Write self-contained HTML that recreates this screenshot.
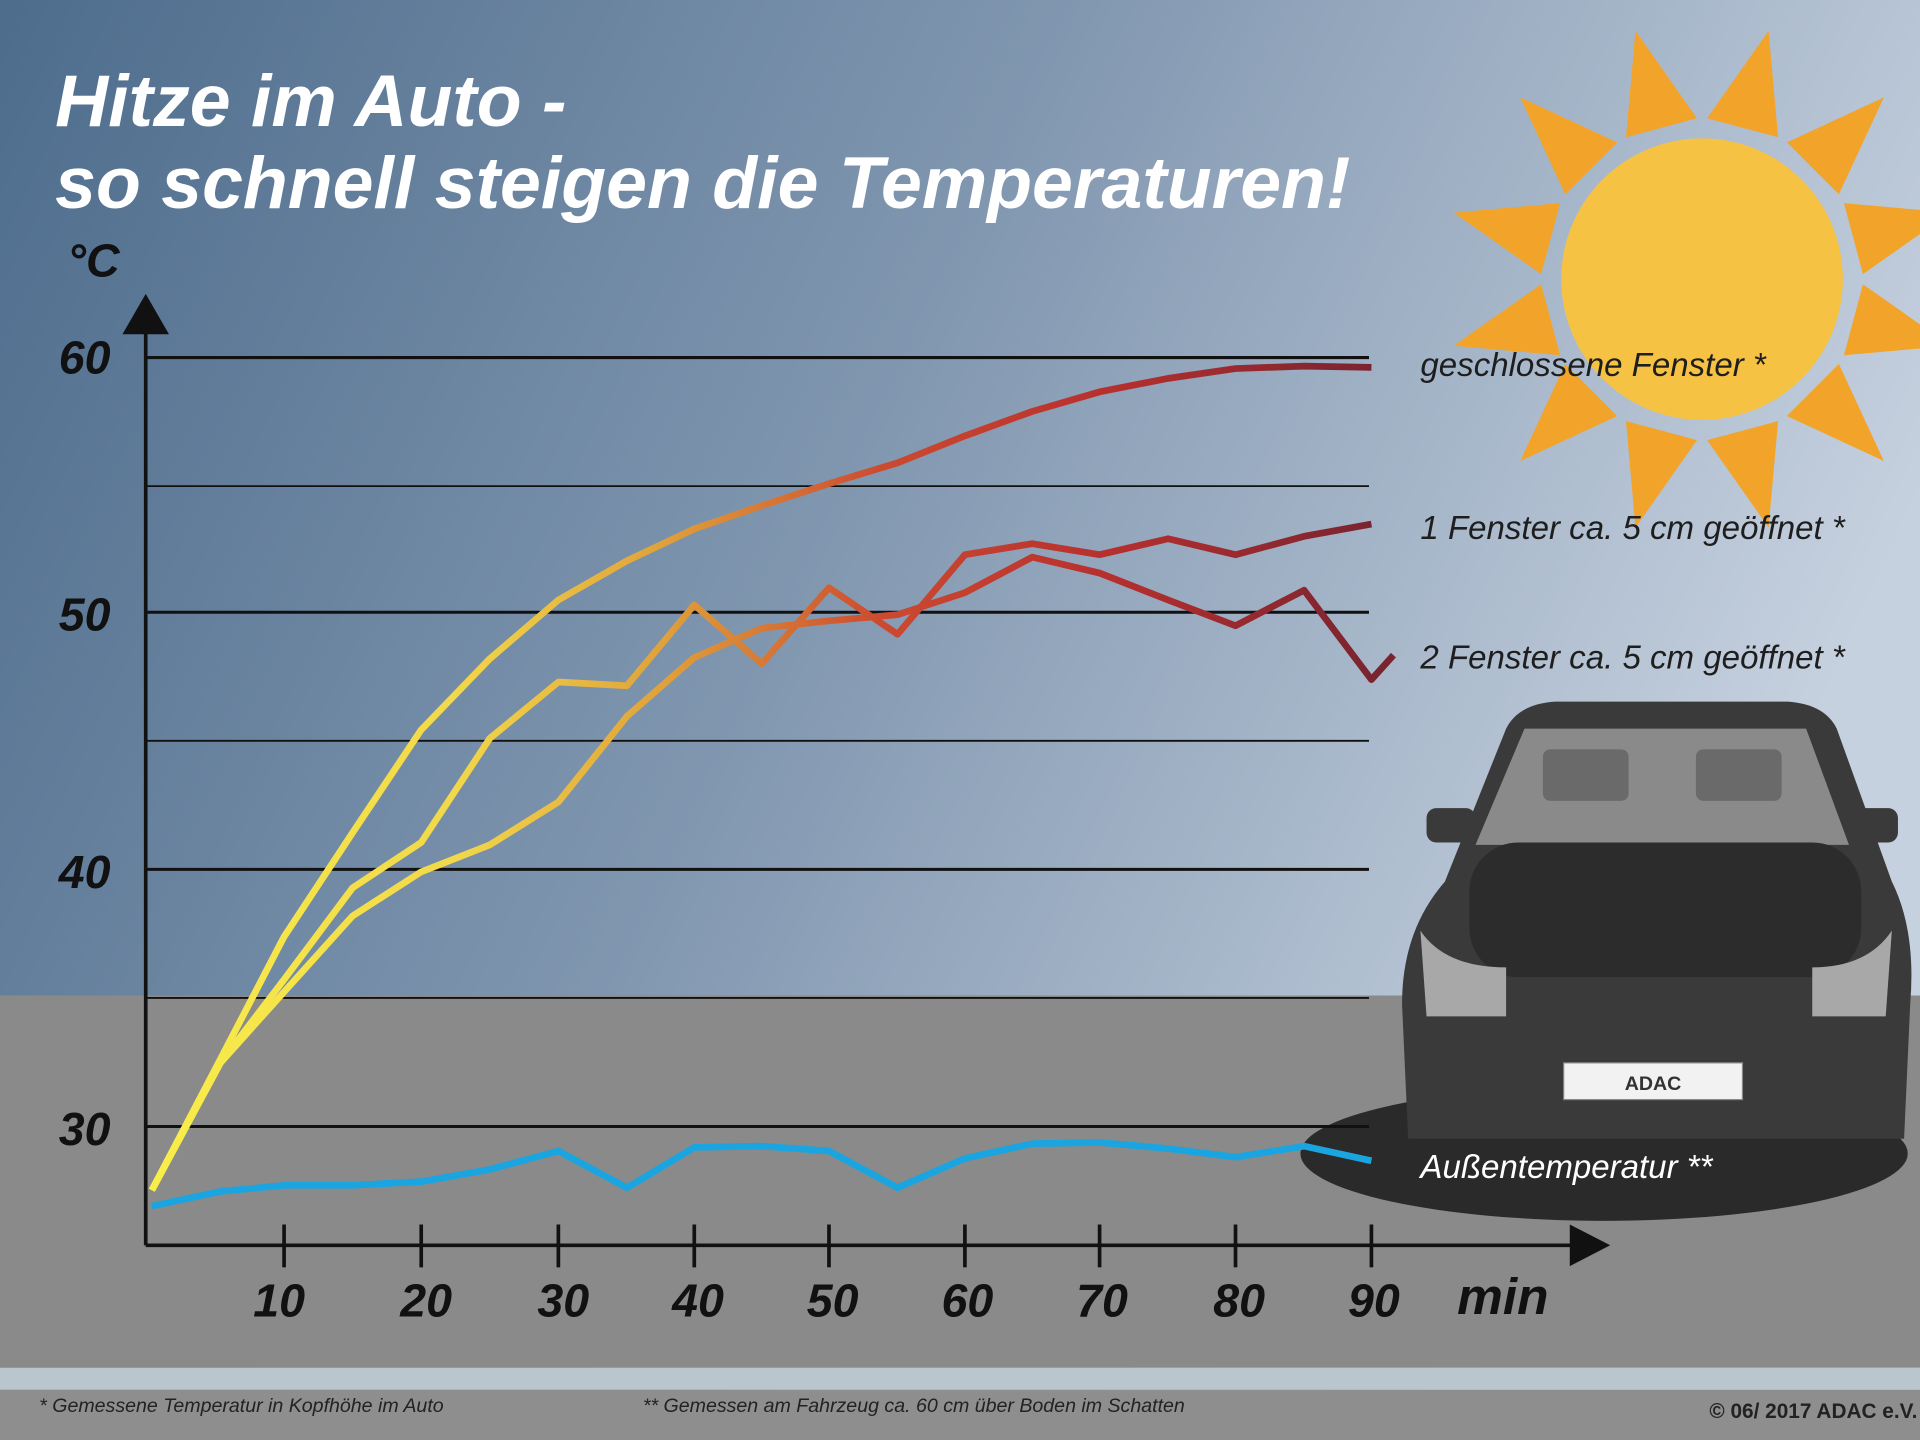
<!DOCTYPE html>
<html><head><meta charset="utf-8"><style>html,body{margin:0;padding:0;width:1920px;height:1440px;overflow:hidden}svg{display:block}</style></head>
<body>
<svg width="1920" height="1440" viewBox="0 0 1568 1176" xmlns="http://www.w3.org/2000/svg" font-family="Liberation Sans, sans-serif">
<defs>
<linearGradient id="sky" x1="0" y1="0" x2="1" y2="0.35">
<stop offset="0" stop-color="#4d6c8c"/><stop offset="0.5" stop-color="#8197b0"/><stop offset="1" stop-color="#c6d1df"/>
</linearGradient>
<linearGradient id="ln" gradientUnits="userSpaceOnUse" x1="120" y1="0" x2="1120" y2="0">
<stop offset="0" stop-color="#f8ee4a"/><stop offset="0.25" stop-color="#f2d84a"/><stop offset="0.42" stop-color="#e0a23a"/><stop offset="0.6" stop-color="#cc4a30"/><stop offset="0.78" stop-color="#b8302e"/><stop offset="1" stop-color="#7a2430"/>
</linearGradient>
</defs>
<rect width="1568" height="1176" fill="url(#sky)"/>
<rect y="813" width="1568" height="304" fill="#8a8a8a"/>
<rect y="1117" width="1568" height="18" fill="#bac6ce"/>
<rect y="1135" width="1568" height="41" fill="#8e8e8e"/>
<!-- sun -->
<g fill="#f2a42a">
<g id="r"><polygon points="1360,100 1420,100 1390,18" transform="rotate(15 1390 228)"/></g>
<use href="#r" transform="rotate(30 1390 228)"/><use href="#r" transform="rotate(60 1390 228)"/><use href="#r" transform="rotate(90 1390 228)"/><use href="#r" transform="rotate(120 1390 228)"/><use href="#r" transform="rotate(150 1390 228)"/><use href="#r" transform="rotate(180 1390 228)"/><use href="#r" transform="rotate(210 1390 228)"/><use href="#r" transform="rotate(240 1390 228)"/><use href="#r" transform="rotate(270 1390 228)"/><use href="#r" transform="rotate(300 1390 228)"/><use href="#r" transform="rotate(330 1390 228)"/>
</g>
<circle cx="1390" cy="228" r="130" fill="#c6d1df" opacity="0"/>
<circle cx="1390" cy="228" r="115" fill="#f6c244"/>
<!-- car -->
<ellipse cx="1310" cy="942" rx="248" ry="55" fill="#2a2a2a"/>
<path d="M1180,720 L1230,595 Q1240,575 1270,573 L1460,573 Q1490,575 1500,595 L1545,720 Q1565,760 1560,820 L1555,930 L1150,930 L1145,820 Q1145,760 1180,720Z" fill="#3a3a3a"/>
<path d="M1205,690 L1245,595 L1475,595 L1510,690Z" fill="#8a8a8a"/>
<rect x="1260" y="612" width="70" height="42" rx="6" fill="#6a6a6a"/><rect x="1385" y="612" width="70" height="42" rx="6" fill="#6a6a6a"/>
<rect x="1200" y="688" width="320" height="110" rx="40" fill="#2c2c2c"/>
<path d="M1160,760 Q1180,790 1230,790 L1230,830 L1165,830Z" fill="#a8a8a8"/>
<path d="M1545,760 Q1525,790 1480,790 L1480,830 L1540,830Z" fill="#a8a8a8"/>
<rect x="1165" y="660" width="40" height="28" rx="8" fill="#3a3a3a"/><rect x="1510" y="660" width="40" height="28" rx="8" fill="#3a3a3a"/>
<rect x="1277" y="868" width="146" height="30" fill="#f2f2f2" stroke="#888"/>
<text x="1350" y="890" font-size="16" font-weight="bold" text-anchor="middle" fill="#333">ADAC</text>
<!-- grid -->
<g stroke="#111" stroke-width="2.5">
<line x1="119" y1="292" x2="1118" y2="292"/><line x1="119" y1="397" x2="1118" y2="397" stroke-width="1.5"/>
<line x1="119" y1="500" x2="1118" y2="500"/><line x1="119" y1="605" x2="1118" y2="605" stroke-width="1.5"/>
<line x1="119" y1="710" x2="1118" y2="710"/><line x1="119" y1="815" x2="1118" y2="815" stroke-width="1.5"/>
<line x1="119" y1="920" x2="1118" y2="920"/>
</g>
<g stroke="#111" stroke-width="3">
<line x1="119" y1="262" x2="119" y2="1017"/><line x1="119" y1="1017" x2="1290" y2="1017"/>
<line x1="232" y1="1000" x2="232" y2="1035"/><line x1="344" y1="1000" x2="344" y2="1035"/><line x1="456" y1="1000" x2="456" y2="1035"/><line x1="567" y1="1000" x2="567" y2="1035"/><line x1="677" y1="1000" x2="677" y2="1035"/><line x1="788" y1="1000" x2="788" y2="1035"/><line x1="898" y1="1000" x2="898" y2="1035"/><line x1="1009" y1="1000" x2="1009" y2="1035"/><line x1="1120" y1="1000" x2="1120" y2="1035"/>
</g>
<polygon points="100,273 138,273 119,240" fill="#111"/>
<polygon points="1282,1000 1282,1034 1315,1017" fill="#111"/>
<!-- series -->
<g fill="none" stroke="url(#ln)" stroke-width="5.5" stroke-linejoin="round">
<polyline points="124,972 180,865 232,765 288,680 344,596 400,538 456,490 512,458 567,432 622,413 677,395 733,378 788,356 843,336 898,320 954,309 1009,301 1065,299 1120,300"/>
<polyline points="124,972 180,868 232,800 288,725 344,688 400,603 456,557 512,560 567,494 622,542 677,480 733,518 788,453 843,444 898,453 954,440 1009,453 1065,438 1120,428"/>
<polyline points="124,972 180,868 232,810 288,748 344,712 400,690 456,655 512,585 567,537 622,513 677,507 733,502 788,484 843,455 898,468 954,490 1009,511 1065,482 1120,555 1138,535"/>
</g>
<polyline fill="none" stroke="#1aa5e0" stroke-width="5.5" stroke-linejoin="round" points="124,985 180,973 232,968 288,968 344,965 400,955 456,940 512,970 567,937 622,936 677,940 733,970 788,946 843,934 898,933 954,938 1009,945 1065,936 1120,948"/>
<!-- text -->
<g fill="#fff" font-weight="bold" font-style="italic" font-size="60">
<text x="45" y="103">Hitze im Auto -</text>
<text x="45" y="170">so schnell steigen die Temperaturen!</text>
</g>
<g fill="#111" font-weight="bold" font-style="italic" font-size="38">
<text x="55" y="226">°C</text>
<text x="48" y="305">60</text><text x="48" y="515">50</text><text x="48" y="725">40</text><text x="48" y="935">30</text>
<g text-anchor="middle"><text x="228" y="1075">10</text><text x="348" y="1075">20</text><text x="460" y="1075">30</text><text x="570" y="1075">40</text><text x="680" y="1075">50</text><text x="790" y="1075">60</text><text x="900" y="1075">70</text><text x="1012" y="1075">80</text><text x="1122" y="1075">90</text></g>
<text x="1190" y="1073" font-size="42">min</text>
</g>
<g fill="#1e1e1e" font-style="italic" font-size="27">
<text x="1160" y="307">geschlossene Fenster *</text>
<text x="1160" y="440">1 Fenster ca. 5 cm geöffnet *</text>
<text x="1160" y="546">2 Fenster ca. 5 cm geöffnet *</text>
</g>
<text x="1160" y="962" fill="#fff" font-style="italic" font-size="27">Außentemperatur **</text>
<g fill="#222" font-style="italic" font-size="16">
<text x="32" y="1153">* Gemessene Temperatur  in Kopfhöhe  im Auto</text>
<text x="525" y="1153">** Gemessen am Fahrzeug ca. 60 cm über Boden im Schatten</text>
</g>
<text x="1396" y="1158" fill="#222" font-size="17" font-weight="bold">© 06/ 2017 ADAC e.V.</text>
</svg>
</body></html>
